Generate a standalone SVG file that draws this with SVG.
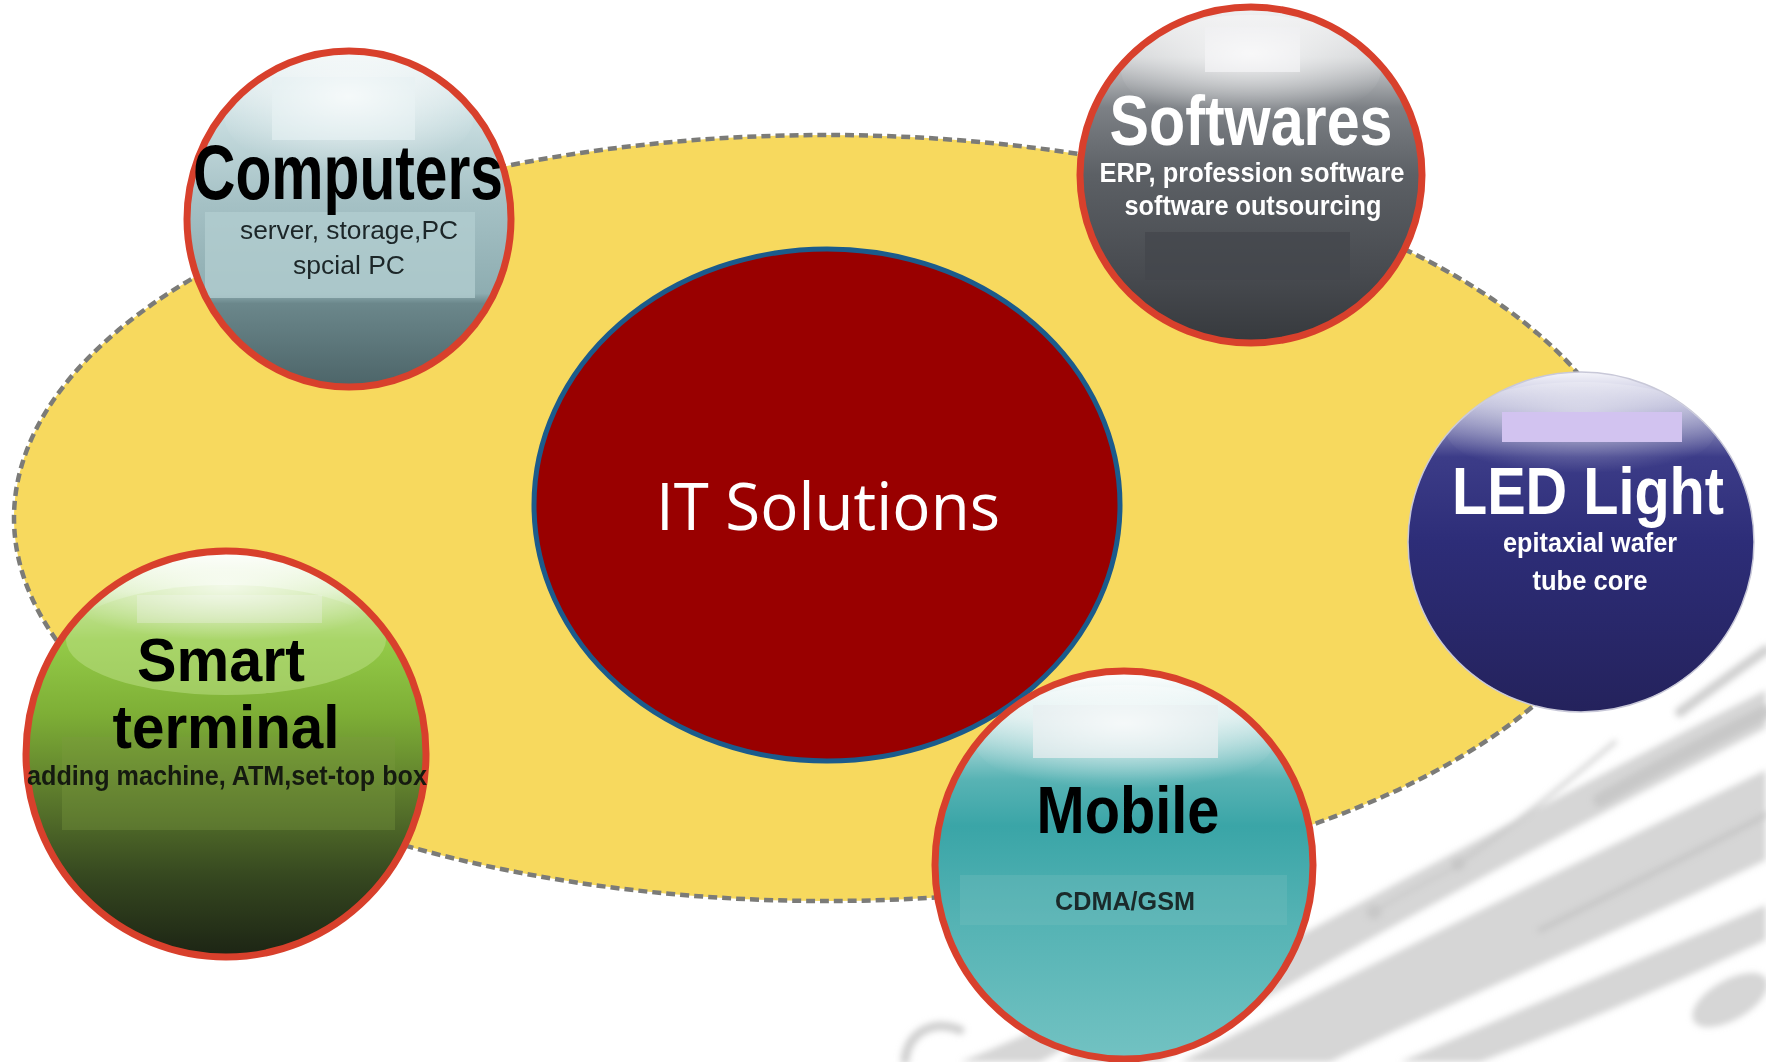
<svg xmlns="http://www.w3.org/2000/svg" width="1766" height="1062" viewBox="0 0 1766 1062">
<style>
.title{font-family:"Liberation Sans",Arial,sans-serif;font-weight:bold;text-anchor:middle}
.sub{font-family:"Liberation Sans",Arial,sans-serif;text-anchor:middle}
.ring{stroke:#d8402c;stroke-width:7}
.brush{fill:#c4c4c4;opacity:0.7}
.brushline{fill:none;stroke:#c4c4c4;stroke-linecap:round;opacity:0.8}
</style>
<defs>
<filter id="soft" x="-10%" y="-10%" width="120%" height="120%"><feGaussianBlur stdDeviation="3"/></filter>
<linearGradient id="gComp" x1="0" y1="50" x2="0" y2="388" gradientUnits="userSpaceOnUse">
<stop offset="0" stop-color="#f0f6f7"/><stop offset="0.2" stop-color="#c8dde0"/><stop offset="0.45" stop-color="#a5c1c5"/><stop offset="0.72" stop-color="#8eadb1"/><stop offset="0.75" stop-color="#6b878b"/><stop offset="1" stop-color="#4c6468"/>
</linearGradient>
<linearGradient id="gSoft" x1="0" y1="7" x2="0" y2="343" gradientUnits="userSpaceOnUse">
<stop offset="0" stop-color="#f2f2f3"/><stop offset="0.15" stop-color="#d0d2d4"/><stop offset="0.3" stop-color="#7c8085"/><stop offset="0.5" stop-color="#5c6065"/><stop offset="0.8" stop-color="#474a4f"/><stop offset="1" stop-color="#36393d"/>
</linearGradient>
<linearGradient id="gLed" x1="0" y1="372" x2="0" y2="712" gradientUnits="userSpaceOnUse">
<stop offset="0" stop-color="#f4f4fa"/><stop offset="0.1" stop-color="#b6b6d6"/><stop offset="0.25" stop-color="#3c3c88"/><stop offset="0.5" stop-color="#2d2d78"/><stop offset="1" stop-color="#24225c"/>
</linearGradient>
<linearGradient id="gSmart" x1="0" y1="551" x2="0" y2="957" gradientUnits="userSpaceOnUse">
<stop offset="0" stop-color="#ffffff"/><stop offset="0.1" stop-color="#d8eebc"/><stop offset="0.22" stop-color="#94cb48"/><stop offset="0.4" stop-color="#7eaf36"/><stop offset="0.6" stop-color="#5c7a2c"/><stop offset="0.8" stop-color="#364820"/><stop offset="1" stop-color="#1c2414"/>
</linearGradient>
<linearGradient id="gMob" x1="0" y1="671" x2="0" y2="1059" gradientUnits="userSpaceOnUse">
<stop offset="0" stop-color="#ffffff"/><stop offset="0.12" stop-color="#d4eaea"/><stop offset="0.28" stop-color="#58b3b4"/><stop offset="0.4" stop-color="#3aa5a7"/><stop offset="0.65" stop-color="#55b3b4"/><stop offset="1" stop-color="#72c2c2"/>
</linearGradient>
<radialGradient id="gloss" cx="0.5" cy="0.35" r="0.6">
<stop offset="0" stop-color="#ffffff" stop-opacity="0.75"/><stop offset="1" stop-color="#ffffff" stop-opacity="0"/>
</radialGradient>
<clipPath id="cComp"><ellipse cx="349" cy="219" rx="162" ry="168"/></clipPath>
<clipPath id="cSoft"><ellipse cx="1251" cy="175" rx="171" ry="168"/></clipPath>
<clipPath id="cLed"><ellipse cx="1581" cy="542" rx="173" ry="170"/></clipPath>
<clipPath id="cSmart"><ellipse cx="226" cy="754" rx="200" ry="203"/></clipPath>
<clipPath id="cMob"><ellipse cx="1124" cy="865" rx="189" ry="194"/></clipPath>
</defs>

<rect width="1766" height="1062" fill="#ffffff"/>

<g id="brush-strokes" filter="url(#soft)">
<path class="brush" d="M 1060 1062 C 1250 965 1470 840 1766 690 L 1766 728 C 1500 865 1300 975 1160 1062 Z" opacity="0.55"/>
<path class="brush" d="M 1180 1062 C 1370 965 1560 870 1766 770 L 1766 860 C 1590 945 1430 1012 1330 1062 Z"/>
<path class="brush" d="M 1400 1062 C 1520 1010 1650 955 1766 905 L 1766 940 C 1660 990 1560 1032 1480 1062 Z"/>
<path class="brush" d="M 960 1062 C 1040 1030 1120 990 1200 960 C 1160 990 1100 1030 1040 1062 Z" opacity="0.5"/>
<path class="brushline" stroke-width="4" d="M 1455 866 C 1520 822 1575 775 1615 742"/>
<path class="brushline" stroke-width="3" d="M 1372 913 C 1400 895 1430 880 1462 864"/>
<circle class="brush" cx="1374" cy="912" r="8"/>
<circle class="brush" cx="1458" cy="864" r="7"/>
<path class="brushline" stroke-width="10" d="M 1680 712 C 1710 690 1740 668 1766 650"/>
<path class="brushline" stroke-width="14" d="M 1600 800 C 1660 765 1720 735 1766 712" opacity="0.6"/>
<ellipse class="brush" cx="1730" cy="1000" rx="42" ry="20" transform="rotate(-30 1730 1000)"/>
<path class="brushline" stroke-width="9" d="M 905 1060 C 908 1035 930 1018 960 1030"/>
<path class="brushline" stroke-width="6" d="M 1540 930 C 1620 890 1700 850 1766 815"/>
</g>

<g id="background-ellipse">
<ellipse cx="826" cy="518" rx="812" ry="383" fill="#f7d95e" stroke="#7b7b78" stroke-width="4.5" stroke-dasharray="9 5"/>
</g>

<g id="connectors"></g>

<g id="node-it-solutions">
<ellipse cx="827" cy="505" rx="293" ry="256" fill="#990000" stroke="#1b5b8c" stroke-width="5"/>
<text x="828" y="530" font-family="'Open Sans','Noto Sans',sans-serif" font-size="66" fill="#ffffff" text-anchor="middle" textLength="344" lengthAdjust="spacingAndGlyphs">IT Solutions</text>
</g>

<g id="node-computers">
<ellipse cx="349" cy="219" rx="162" ry="168" fill="url(#gComp)"/>
<g clip-path="url(#cComp)">
<rect x="272" y="77" width="143" height="63" fill="#d8e8eb" opacity="0.8"/>
<rect x="205" y="212" width="270" height="86" fill="#b2cdd0" opacity="0.8"/>
<ellipse cx="349" cy="115" rx="125" ry="62" fill="url(#gloss)"/>
</g>
<ellipse cx="349" cy="219" rx="162" ry="168" fill="none" class="ring"/>
<text class="title" x="348" y="199" font-size="78" fill="#000000" textLength="310" lengthAdjust="spacingAndGlyphs">Computers</text>
<text class="sub" x="349" y="239" font-size="26" fill="#1c2628" textLength="218" lengthAdjust="spacingAndGlyphs">server, storage,PC</text>
<text class="sub" x="349" y="274" font-size="26" fill="#1c2628" textLength="112" lengthAdjust="spacingAndGlyphs">spcial PC</text>
</g>

<g id="node-softwares">
<ellipse cx="1251" cy="175" rx="171" ry="168" fill="url(#gSoft)"/>
<g clip-path="url(#cSoft)">
<rect x="1205" y="27" width="95" height="45" fill="#e6e6ea" opacity="0.8"/>
<rect x="1145" y="232" width="205" height="48" fill="#43464b" opacity="0.7"/>
<ellipse cx="1251" cy="70" rx="130" ry="55" fill="url(#gloss)"/>
</g>
<ellipse cx="1251" cy="175" rx="171" ry="168" fill="none" class="ring"/>
<text class="title" x="1251" y="145" font-size="70" fill="#ffffff" textLength="283" lengthAdjust="spacingAndGlyphs">Softwares</text>
<text class="sub" x="1252" y="182" font-size="27" font-weight="bold" fill="#ffffff" textLength="305" lengthAdjust="spacingAndGlyphs">ERP, profession software</text>
<text class="sub" x="1253" y="215" font-size="27" font-weight="bold" fill="#ffffff" textLength="257" lengthAdjust="spacingAndGlyphs">software outsourcing</text>
</g>

<g id="node-led-light">
<ellipse cx="1581" cy="542" rx="173" ry="170" fill="url(#gLed)" stroke="#c8c8d8" stroke-width="1.5"/>
<g clip-path="url(#cLed)">
<ellipse cx="1581" cy="430" rx="135" ry="48" fill="url(#gloss)" opacity="0.7"/>
<rect x="1502" y="412" width="180" height="30" fill="#d2c3f0"/>
</g>
<text class="title" x="1588" y="514" font-size="67" fill="#ffffff" textLength="272" lengthAdjust="spacingAndGlyphs">LED Light</text>
<text class="sub" x="1590" y="552" font-size="28" font-weight="bold" fill="#ffffff" textLength="174" lengthAdjust="spacingAndGlyphs">epitaxial wafer</text>
<text class="sub" x="1590" y="590" font-size="28" font-weight="bold" fill="#ffffff" textLength="115" lengthAdjust="spacingAndGlyphs">tube core</text>
</g>

<g id="node-smart-terminal">
<ellipse cx="226" cy="754" rx="200" ry="203" fill="url(#gSmart)"/>
<g clip-path="url(#cSmart)">
<ellipse cx="226" cy="640" rx="160" ry="55" fill="#b9df83" opacity="0.55"/>
<rect x="137" y="595" width="185" height="28" fill="#e8eee0" opacity="0.35"/>
<rect x="62" y="737" width="333" height="93" fill="#7a9a3f" opacity="0.35"/>
<ellipse cx="226" cy="600" rx="150" ry="45" fill="url(#gloss)"/>
</g>
<ellipse cx="226" cy="754" rx="200" ry="203" fill="none" class="ring"/>
<text class="title" x="221" y="681" font-size="62" fill="#000000" textLength="168" lengthAdjust="spacingAndGlyphs">Smart</text>
<text class="title" x="226" y="748" font-size="62" fill="#000000" textLength="227" lengthAdjust="spacingAndGlyphs">terminal</text>
<text class="sub" x="227" y="785" font-size="27" font-weight="bold" fill="#151a10" textLength="400" lengthAdjust="spacingAndGlyphs">adding machine, ATM,set-top box</text>
</g>

<g id="node-mobile">
<ellipse cx="1124" cy="865" rx="189" ry="194" fill="url(#gMob)"/>
<g clip-path="url(#cMob)">
<rect x="1033" y="705" width="185" height="53" fill="#dbe6e8" opacity="0.8"/>
<rect x="960" y="875" width="327" height="50" fill="#7cc0bf" opacity="0.3"/>
<ellipse cx="1124" cy="740" rx="150" ry="55" fill="url(#gloss)"/>
</g>
<ellipse cx="1124" cy="865" rx="189" ry="194" fill="none" class="ring"/>
<text class="title" x="1128" y="833" font-size="67" fill="#000000" textLength="183" lengthAdjust="spacingAndGlyphs">Mobile</text>
<text class="sub" x="1125" y="910" font-size="25" font-weight="bold" fill="#1a2a2a" textLength="140" lengthAdjust="spacingAndGlyphs">CDMA/GSM</text>
</g>
</svg>
